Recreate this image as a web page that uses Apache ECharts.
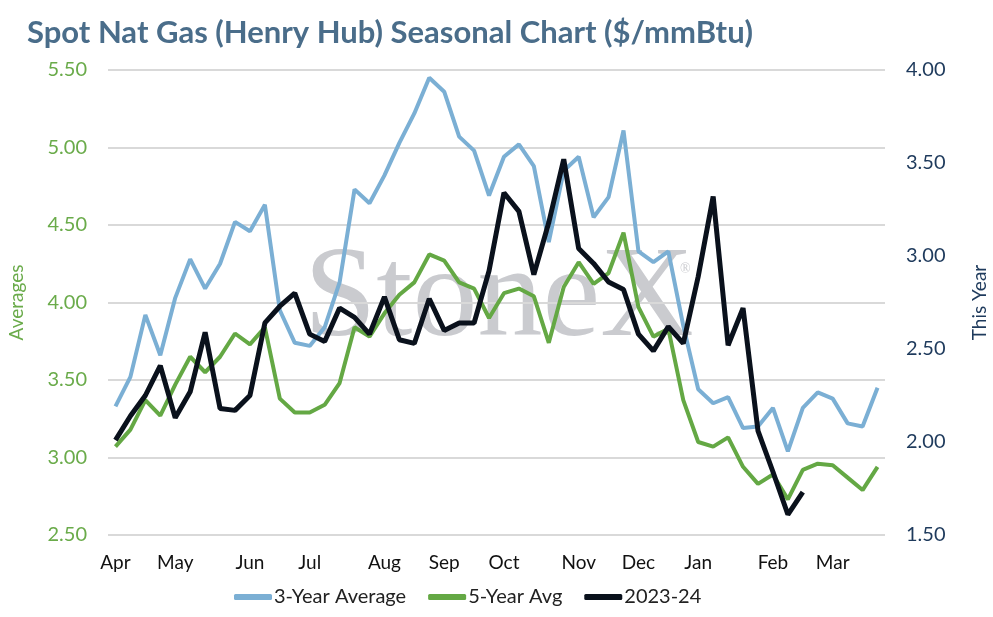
<!DOCTYPE html>
<html>
<head>
<meta charset="utf-8">
<style>
  html, body { margin: 0; padding: 0; background: #fff; }
  #chart { width: 993px; height: 617px; }
</style>
<script src="https://cdn.jsdelivr.net/npm/echarts@6/dist/echarts.min.js"></script>
</head>
<body>
<div id="chart"></div>
<script>
// weekly points, Apr -> Mar (52 weeks)
var weeks = [];
for (var w = 0; w < 52; w++) weeks.push('W' + (w + 1));
// week index where each month label sits
var monthNames = ['Apr', 'May', 'Jun', 'Jul', 'Aug', 'Sep', 'Oct', 'Nov', 'Dec', 'Jan', 'Feb', 'Mar'];
var monthStarts = [0, 4, 9, 13, 18, 22, 26, 31, 35, 39, 44, 48];

var threeYearAvg = [3.33, 3.52, 3.92, 3.66, 4.03, 4.28, 4.09, 4.25, 4.52, 4.46,
  4.63, 3.95, 3.74, 3.72, 3.84, 4.13, 4.73, 4.64, 4.82, 5.03,
  5.22, 5.45, 5.36, 5.07, 4.98, 4.69, 4.94, 5.02, 4.88, 4.39,
  4.85, 4.94, 4.55, 4.68, 5.11, 4.33, 4.26, 4.33, 3.85, 3.44,
  3.35, 3.39, 3.19, 3.20, 3.32, 3.04, 3.32, 3.42, 3.38, 3.22,
  3.20, 3.45];

var fiveYearAvg = [3.07, 3.18, 3.37, 3.27, 3.47, 3.65, 3.55, 3.65, 3.80, 3.73,
  3.84, 3.38, 3.29, 3.29, 3.34, 3.48, 3.84, 3.78, 3.93, 4.05,
  4.13, 4.31, 4.27, 4.13, 4.09, 3.90, 4.06, 4.09, 4.04, 3.74,
  4.10, 4.26, 4.12, 4.19, 4.45, 3.97, 3.78, 3.83, 3.37, 3.10,
  3.07, 3.13, 2.94, 2.83, 2.89, 2.73, 2.92, 2.96, 2.95, 2.87,
  2.79, 2.94];

var thisYear = [2.01, 2.14, 2.25, 2.41, 2.13, 2.27, 2.59, 2.18, 2.17, 2.25,
  2.64, 2.73, 2.80, 2.58, 2.54, 2.72, 2.67, 2.58, 2.78, 2.55,
  2.53, 2.77, 2.60, 2.64, 2.64, 2.92, 3.34, 3.24, 2.90, 3.18,
  3.52, 3.04, 2.96, 2.86, 2.82, 2.58, 2.49, 2.62, 2.53, 2.89,
  3.32, 2.52, 2.72, 2.06, 1.84, 1.61, 1.73, null, null, null,
  null, null];

var leftTicks = { min: 2.5, max: 5.5, interval: 0.5 };
var rightTicks = { min: 1.5, max: 4.0, interval: 0.5 };

var chart = echarts.init(document.getElementById('chart'));

var font = 'Lato, "Noto Sans", sans-serif';

var option = {
  backgroundColor: '#fff',
  animation: false,
  title: {
    text: 'Spot Nat Gas (Henry Hub) Seasonal Chart ($/mmBtu)',
    left: 22,
    top: 12,
    textStyle: {
      color: '#4a6d8a',
      fontSize: 31,
      fontWeight: 'bold',
      fontFamily: font
    }
  },
  graphic: [{
    type: 'text',
    left: 304,
    top: 236,
    z: 0,
    silent: true,
    style: {
      text: 'StoneX',
      fill: '#cacbcf',
      font: '130px "Liberation Serif", "DejaVu Serif", serif'
    }
  }, {
    type: 'text',
    left: 680,
    top: 262,
    z: 0,
    silent: true,
    style: {
      text: '®',
      fill: '#cacbcf',
      font: '14px "Liberation Serif", serif'
    }
  }],
  legend: {
    bottom: 5,
    left: 229,
    itemWidth: 38,
    itemHeight: 6,
    itemGap: 22,
    icon: 'roundRect',
    textStyle: { color: '#222', fontSize: 20, fontFamily: font, padding: [0, 0, 0, -3] },
    data: ['3-Year Average', '5-Year Avg', '2023-24']
  },
  grid: {
    left: 108,
    right: 108,
    top: 70,
    bottom: 82,
    outerBoundsMode: 'none'
  },
  xAxis: {
    type: 'category',
    data: weeks,
    boundaryGap: true,
    axisLine: { show: false },
    axisTick: { show: false },
    axisLabel: {
      interval: function (idx) { return monthStarts.indexOf(idx) >= 0; },
      formatter: function (val, idx) {
        var k = monthStarts.indexOf(idx);
        return k >= 0 ? monthNames[k] : '';
      },
      color: '#111',
      fontSize: 19,
      fontFamily: font,
      margin: 18
    },
    splitLine: { show: false }
  },
  yAxis: [{
    type: 'value',
    name: 'Averages',
    nameLocation: 'middle',
    nameGap: 82,
    nameTextStyle: { color: '#6aab4a', fontSize: 19, fontFamily: font },
    min: leftTicks.min,
    max: leftTicks.max,
    interval: leftTicks.interval,
    axisLine: { show: false },
    axisTick: { show: false },
    axisLabel: {
      color: '#6aab4a',
      fontSize: 20,
      fontFamily: font,
      margin: 21,
      formatter: function (v) { return v.toFixed(2); }
    },
    splitLine: { lineStyle: { color: '#d9d9d9', width: 2 } }
  }, {
    type: 'value',
    name: 'This Year',
    nameLocation: 'middle',
    nameGap: 85,
    nameRotate: 90,
    nameTextStyle: { color: '#1e3a5c', fontSize: 19, fontFamily: font },
    min: rightTicks.min,
    max: rightTicks.max,
    interval: rightTicks.interval,
    axisLine: { show: false },
    axisTick: { show: false },
    axisLabel: {
      color: '#1e3a5c',
      fontSize: 20,
      fontFamily: font,
      margin: 21,
      formatter: function (v) { return v.toFixed(2); }
    },
    splitLine: { show: false }
  }],
  series: [{
    name: '3-Year Average',
    type: 'line',
    yAxisIndex: 0,
    data: threeYearAvg,
    symbol: 'none',
    z: 2,
    color: '#7bafd4',
    lineStyle: { width: 4, color: '#7bafd4' }
  }, {
    name: '5-Year Avg',
    type: 'line',
    yAxisIndex: 0,
    data: fiveYearAvg,
    symbol: 'none',
    z: 3,
    color: '#64a844',
    lineStyle: { width: 4, color: '#64a844' }
  }, {
    name: '2023-24',
    type: 'line',
    yAxisIndex: 1,
    data: thisYear,
    symbol: 'none',
    z: 4,
    color: '#0a111c',
    lineStyle: { width: 5, color: '#0a111c' }
  }]
};

chart.setOption(option);
</script>
</body>
</html>
